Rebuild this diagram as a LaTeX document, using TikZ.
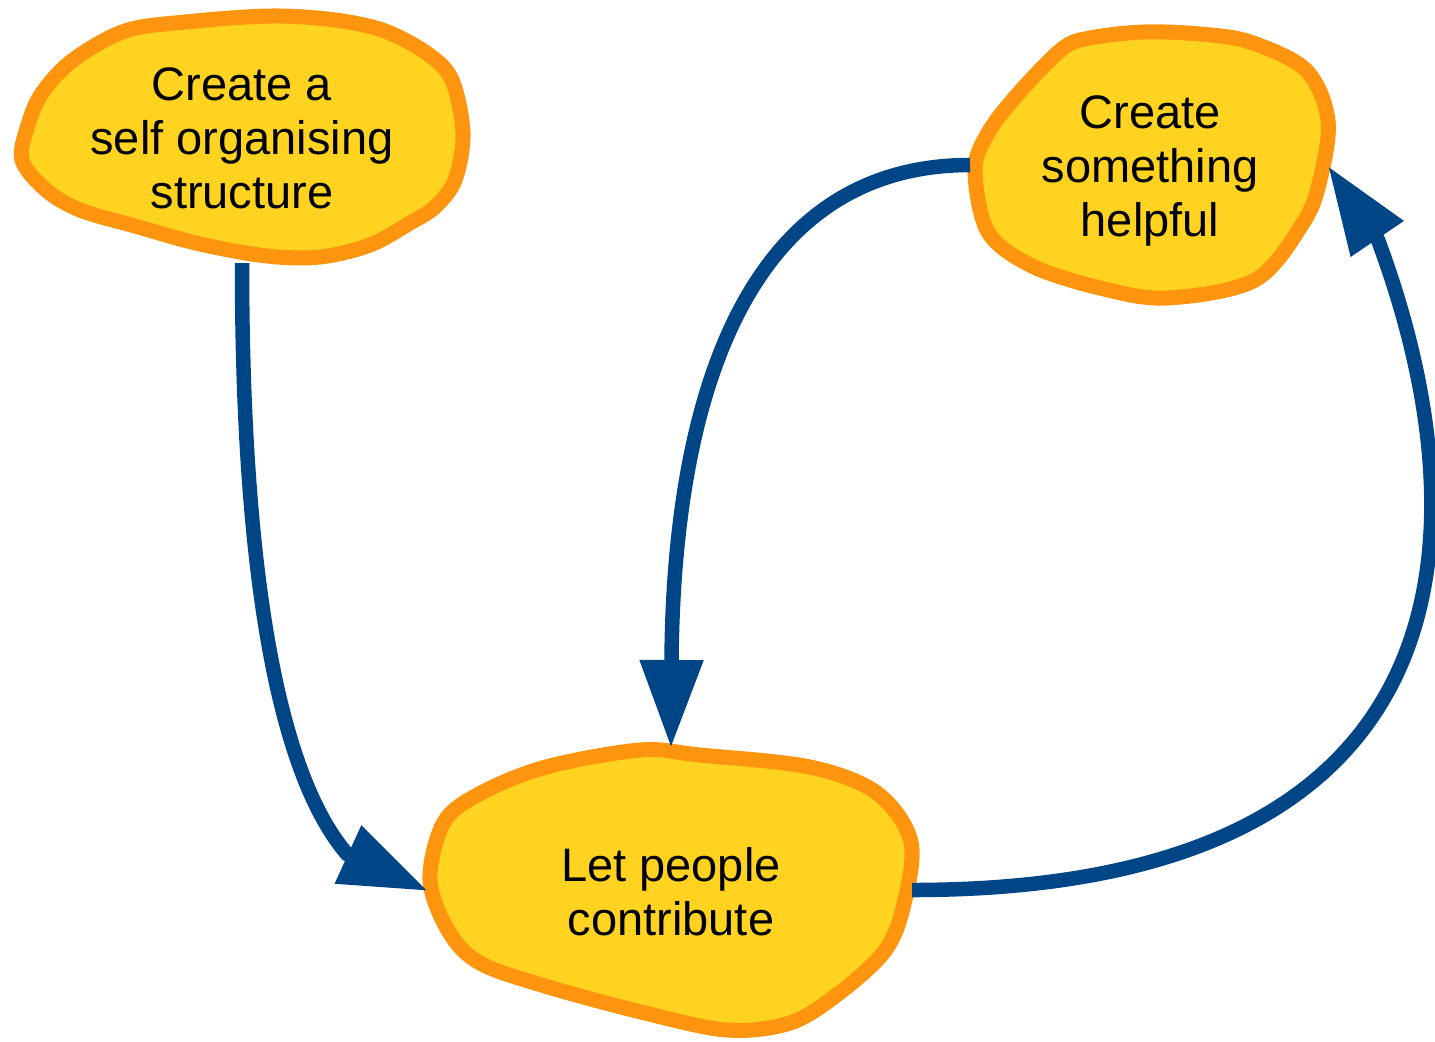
\documentclass[tikz,border=0pt]{standalone}
\usepackage{fontspec}
\setmainfont{Liberation Sans}
\usetikzlibrary{arrows.meta}
\definecolor{blobfill}{HTML}{FFD320}
\definecolor{blobline}{HTML}{FF950E}
\definecolor{arrowblue}{HTML}{004586}
\begin{document}
\begin{tikzpicture}[x=0.5pt,y=-0.5pt,
  blob/.style={fill=blobfill,draw=blobline,line width=7.5pt,line join=round},
  blobtext/.style={font=\fontsize{23.5pt}{27pt}\selectfont,align=center,inner sep=0pt},
  conn/.style={draw=arrowblue,line width=7.25pt,-{Triangle[length=44pt,width=30pt]}}]
\useasboundingbox (0,0) rectangle (1435,1041);

% blobs
\draw[blob] plot[smooth cycle,tension=0.55] coordinates {
  (125,31) (185,22) (270,16) (335,20) (385,31) (428,54) (452,80) (463,133)
  (455,180) (435,207) (410,223) (370,245) (320,257) (267,256) (200,244)
  (135,226) (80,210) (46,190) (22,160) (28,125) (42,93) (73,60)};
\draw[blob] plot[smooth cycle,tension=0.55] coordinates {
  (1062,49) (1090,38) (1143,32) (1200,34) (1250,42) (1306,70) (1328,120)
  (1320,180) (1303,223) (1255,280) (1167,298) (1100,288) (1032,266)
  (988,232) (975,170) (988,133) (1017,95)};
\draw[blob] plot[smooth cycle,tension=0.55] coordinates {
  (546,767) (640,750) (700,755) (810,767) (877,793) (911,842) (903,908)
  (884,952) (838,994) (790,1023) (727,1030) (645,1013) (545,986) (480,963)
  (449,932) (430,880) (444,822) (481,793)};

% texts
\node[blobtext] (t1) at (242,138) {Create a\\self organising\\structure};
\node[blobtext] (t2) at (1150,171) {Create\\something\\helpful};
\node[blobtext] (t3) at (671,892) {Let people\\contribute};

% connector ends and arrow bases
\coordinate (s1) at (242,263);
\coordinate (b1) at (347,854);
\coordinate (e1) at (428,891);
\coordinate (s2) at (970,165);
\coordinate (e2) at (671,748);
\coordinate (s3) at (912,890);
\coordinate (b3) at (1378,240);
\coordinate (e3) at (1328,166);

\draw[conn] (s1) .. controls (242,560) and (275,770) .. (b1) -- (e1);
\draw[conn] (s2) .. controls (745,165) and (673,400) .. (e2);
\draw[conn] (s3) .. controls (1500,890) and (1475,500) .. (b3) -- (e3);
\end{tikzpicture}
\end{document}
